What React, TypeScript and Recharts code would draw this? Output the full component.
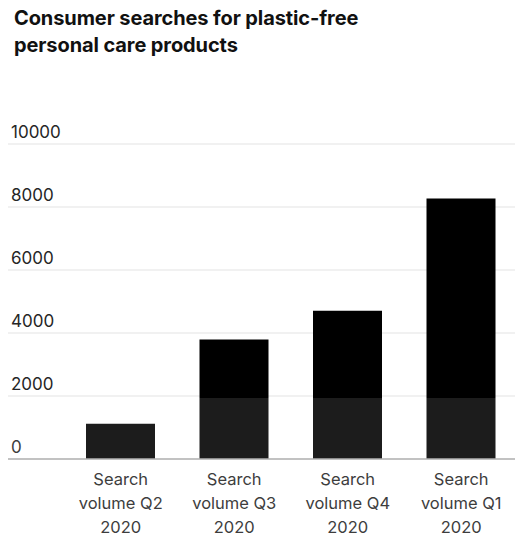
import { Bar, BarChart, CartesianGrid, XAxis, YAxis } from 'recharts'

const categories = [
  'Search\nvolume Q2\n2020',
  'Search\nvolume Q3\n2020',
  'Search\nvolume Q4\n2020',
  'Search\nvolume Q1\n2020',
]
const searchVolume = [1120, 3790, 4710, 8270]
const yTicks = [0, 2000, 4000, 6000, 8000, 10000]

const data = categories.map((name, i) => ({ name, volume: searchVolume[i] }))

const FONT = 'Inter, "Liberation Sans", Arial, sans-serif'

const renderYTick = ({ y, payload }: any) => (
  <text x={11} y={y - 6} fill="#262626" fontSize={17} fontFamily={FONT} textAnchor="start">
    {payload.value}
  </text>
)

const renderXTick = ({ x, y, payload }: any) => {
  const lines = String(payload.value).split('\n')
  return (
    <text x={x} y={y} fill="#262626" fontSize={16.5} fontFamily={FONT} textAnchor="middle">
      {lines.map((line, i) => (
        <tspan key={i} x={x} dy={i === 0 ? 18 : 24}>
          {line}
        </tspan>
      ))}
    </text>
  )
}

export default function App() {
  return (
    <div
      style={{
        position: 'absolute',
        left: 0,
        top: 0,
        width: 515,
        height: 537,
        overflow: 'hidden',
        background: '#fff',
      }}
    >
      <div
        style={{
          position: 'absolute',
          left: 14,
          top: 5,
          fontFamily: FONT,
          fontWeight: 700,
          fontSize: 20,
          lineHeight: '27px',
          color: '#111',
          letterSpacing: -0.1,
        }}
      >
        Consumer searches for plastic-free
        <br />
        personal care products
      </div>
      <div style={{ position: 'absolute', left: 0, top: 0 }}>
        <BarChart
          width={518}
          height={537}
          data={data}
          margin={{ top: 144, right: 0, bottom: 0, left: 7 }}
        >
          <CartesianGrid vertical={false} stroke="#ececec" strokeWidth={1.5} />
          <YAxis
            width={1}
            domain={[0, 10000]}
            ticks={yTicks}
            axisLine={false}
            tickLine={false}
            tick={renderYTick}
          />
          <XAxis
            dataKey="name"
            height={78}
            padding={{ left: 56, right: 0 }}
            axisLine={{ stroke: '#a8a8a8', strokeWidth: 1.5 }}
            tickLine={false}
            interval={0}
            tick={renderXTick}
          />
          <Bar dataKey="volume" fill="#000" barSize={69} isAnimationActive={false} />
        </BarChart>
      </div>
      <div
        style={{
          position: 'absolute',
          left: 0,
          top: 398,
          width: 515,
          height: 139,
          background: 'rgba(255,255,255,0.11)',
          pointerEvents: 'none',
        }}
      />
    </div>
  )
}
